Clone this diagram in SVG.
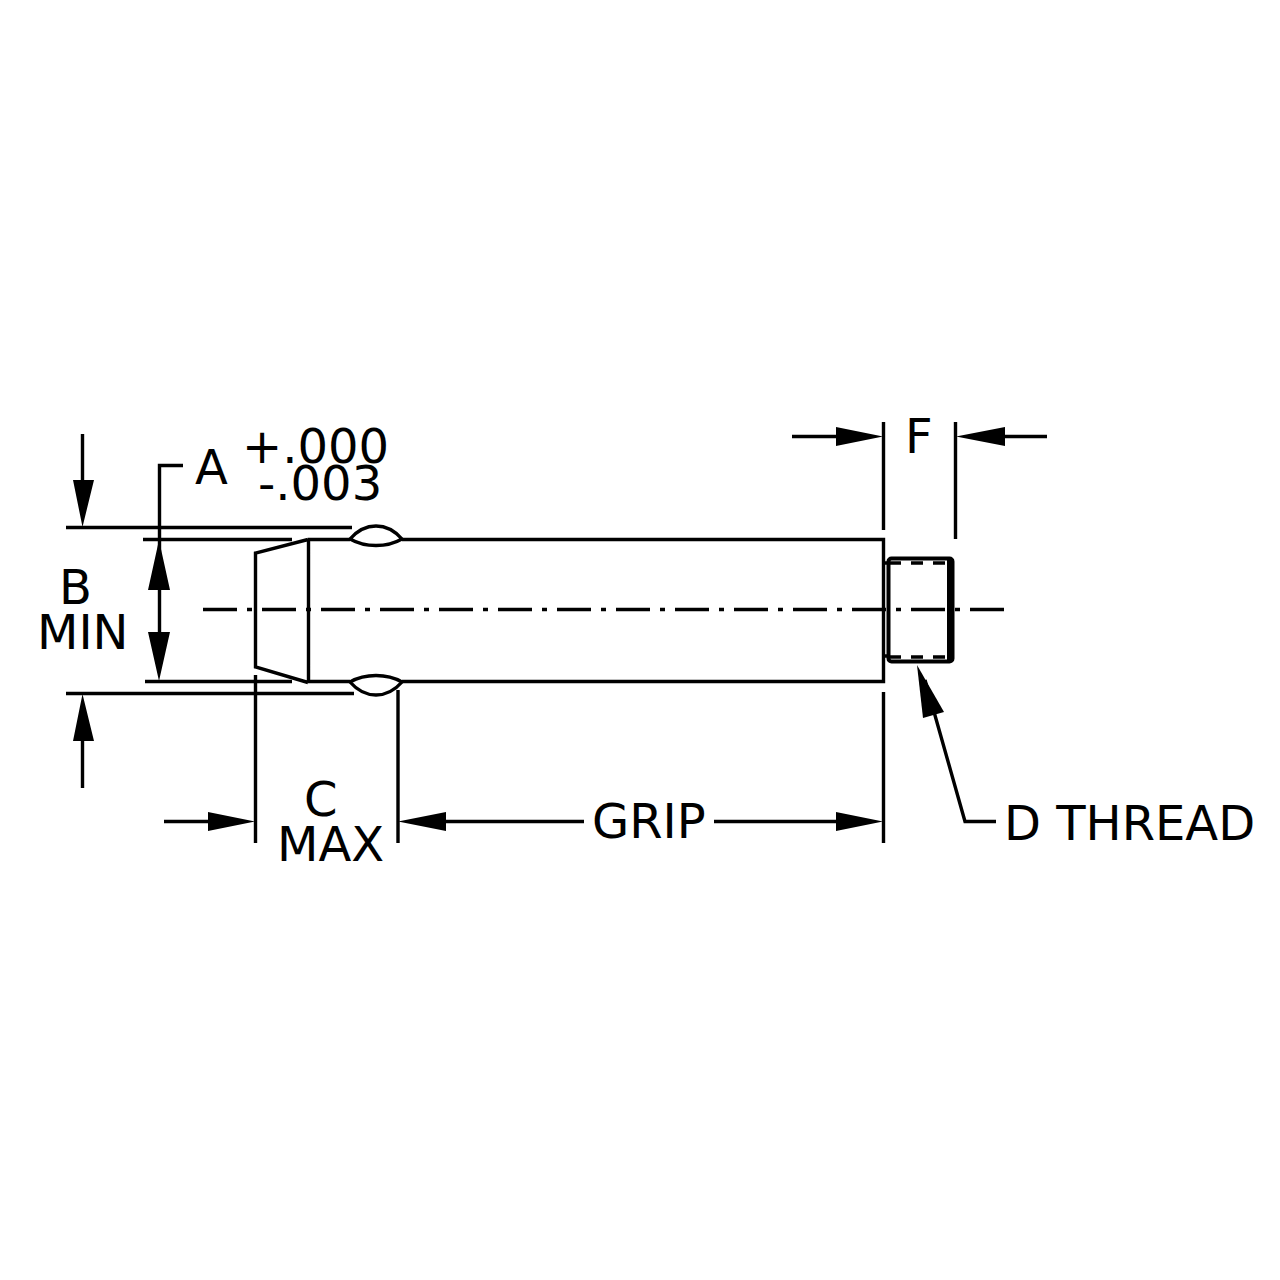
<svg xmlns="http://www.w3.org/2000/svg" width="1280" height="1280" viewBox="0 0 1280 1280">
<style>
.l{fill:none;stroke:#000;stroke-width:3.4}
.h{fill:#000;stroke:none}
text{font-family:"DejaVu Sans",sans-serif;font-size:48px;fill:#000}
</style>
<rect width="1280" height="1280" fill="#fff"/>
<g id="part">
<path class="l" d="M308 539.500H350M402 539.500H883.500V681.500H402M350 681.500H308M308.500 539V682M308 539.500L255.500 553V667L308 682.500"/>
<path class="l" d="M350 539C357 543 367 545.500 376 545.500C386 545.500 395 543 402 539C395 531 386 526 376 526C366 526 357 531 350 539Z"/>
<path class="l" d="M350 682C357 678 367 675.500 376 675.500C386 675.500 395 678 402 682C395 690 386 695 376 695C366 695 357 690 350 682Z"/>
<path class="l" d="M885 563H889M885 656H889"/>
<rect class="l" x="888.500" y="558.500" width="64" height="103" rx="3" style="stroke-width:4"/>
<path class="l" d="M950 559V661" style="stroke-width:6"/>
<path class="l" d="M889 563H952M889 657H952" stroke-dasharray="12 10" style="stroke-width:3.400"/>
<path class="l" d="M203 609.500H1006" stroke-dasharray="34 10 5 10"/>
</g>
<g id="connectors">
<path class="l" d="M66 527.500H352M143 539.500H292M145 681.500H292M66 693.500H354"/>
<path class="l" d="M82.500 434V490M82.500 788V730"/>
<path class="h" d="M82.500 527L73 480H94ZM82.500 694L73 741H94Z"/>
<path class="l" d="M183 465.500H159.500V640"/>
<path class="h" d="M159 540L148 590H170ZM159 681L148 632H170Z"/>
<path class="l" d="M255.500 675V843M398 690V843M883.500 692V843M883.500 422V530M955.500 422V539"/>
<path class="l" d="M164 821.500H210M430 821.500H584M714 821.500H850M792 436.500H850M990 436.500H1047"/>
<path class="h" d="M255 821.500L208 812V831ZM398 821.500L446 812V831ZM883 821.500L836 812V831ZM883 436.500L836 427V446ZM956 436.500L1005 427V446Z"/>
<path class="l" d="M925 680L965 821.500H996"/>
<path class="h" d="M917 665L944 712L923 718Z"/>
</g>
<g id="labels">
<text x="195" y="484">A</text>
<text x="242" y="463">+.000</text>
<text x="258" y="500">-.003</text>
<text x="59" y="604">B</text>
<text x="37" y="649">MIN</text>
<text x="304" y="816">C</text>
<text x="277" y="861">MAX</text>
<text x="592" y="838">GRIP</text>
<text x="905" y="453">F</text>
<text x="1004" y="840">D THREAD</text>
</g>
</svg>
